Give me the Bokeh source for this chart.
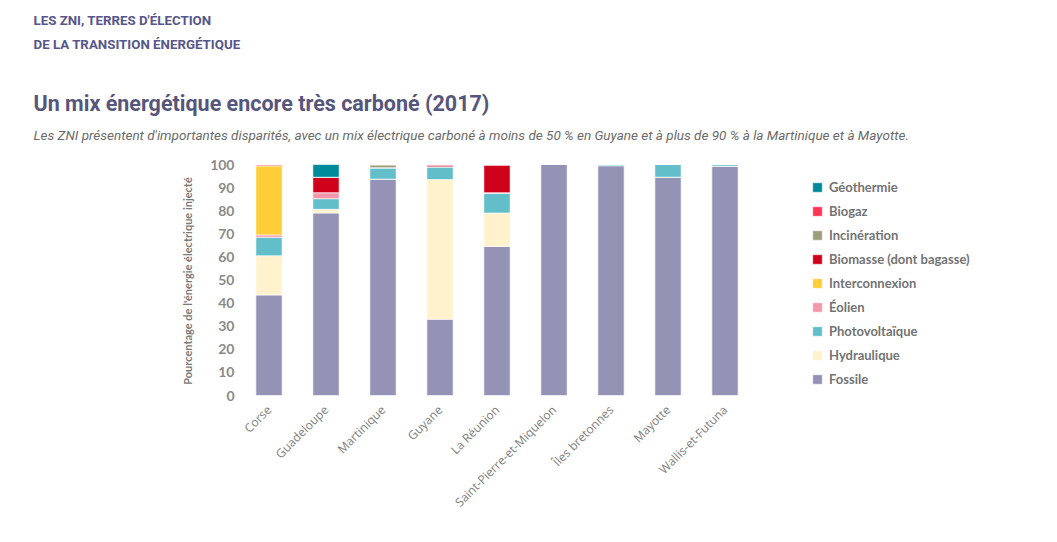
from bokeh.plotting import figure
from bokeh.models import (Range1d, Legend, LegendItem, ColumnDataSource, FixedTicker,
                          Title, LinearAxis)
from bokeh.embed import file_html
from bokeh.resources import INLINE
import math

regions = ["Corse", "Guadeloupe", "Martinique", "Guyane", "La Réunion",
           "Saint-Pierre-et-Miquelon", "Îles bretonnes", "Mayotte", "Wallis-et-Futuna"]

fossile        = [43.5, 79.0, 93.7, 33.0, 64.5, 100.0, 99.5, 94.5, 99.3]
hydraulique    = [17.0,  1.6,  0.0, 60.5, 14.5,   0.0,  0.0,  0.0,  0.0]
photovoltaique = [ 8.0,  4.6,  4.9,  5.5,  8.5,   0.0,  0.5,  5.5,  0.7]
eolien         = [ 1.0,  2.6,  0.0,  0.0,  0.3,   0.0,  0.0,  0.0,  0.0]
interconnexion = [30.0,  0.0,  0.0,  0.0,  0.0,   0.0,  0.0,  0.0,  0.0]
biomasse       = [ 0.0,  6.7,  0.0,  0.8, 12.0,   0.0,  0.0,  0.0,  0.0]
incineration   = [ 0.0,  0.0,  1.2,  0.0,  0.0,   0.0,  0.0,  0.0,  0.0]
biogaz         = [ 0.5,  0.0,  0.2,  0.2,  0.2,   0.0,  0.0,  0.0,  0.0]
geothermie     = [ 0.0,  5.5,  0.0,  0.0,  0.0,   0.0,  0.0,  0.0,  0.0]

series_keys = ["fossile", "hydraulique", "photovoltaique", "eolien", "interconnexion",
               "biomasse", "incineration", "biogaz", "geothermie"]
series_labels = ["Fossile", "Hydraulique", "Photovoltaïque", "Éolien", "Interconnexion",
                 "Biomasse (dont bagasse)", "Incinération", "Biogaz", "Géothermie"]
series_colors = ["#9593b5", "#fff2cc", "#62bfc9", "#f598ae", "#ffcd38",
                 "#d0021b", "#9e9e7e", "#ff3355", "#008a9a"]
y_ticks = [0, 10, 20, 30, 40, 50, 60, 70, 80, 90, 100]

header_lines = ["LES ZNI, TERRES D'ÉLECTION", "DE LA TRANSITION ÉNERGÉTIQUE"]
title_text = "Un mix énergétique encore très carboné (2017)"
subtitle_text = ("Les ZNI présentent d'importantes disparités, avec un mix électrique carboné "
                 "à moins de 50 % en Guyane et à plus de 90 % à la Martinique et à Mayotte.")

W, H = 1041, 526
positions = list(range(len(regions)))
data = dict(pos=positions, regions=regions, fossile=fossile, hydraulique=hydraulique,
            photovoltaique=photovoltaique, eolien=eolien, interconnexion=interconnexion,
            biomasse=biomasse, incineration=incineration, biogaz=biogaz, geothermie=geothermie)
source = ColumnDataSource(data)

# layout geometry (pixels)
FRAME_L, FRAME_T, FRAME_B = 240, 144, 417
PX_PER_CAT = 57.0
PX_PER_PCT = 2.31
x_end = -0.5 + (W - FRAME_L) / PX_PER_CAT
y_end = (395 - FRAME_T) / PX_PER_PCT
y_start = -(FRAME_B - 395) / PX_PER_PCT

p = figure(x_range=Range1d(-0.5, x_end), y_range=Range1d(y_start, y_end), width=W, height=H,
           output_backend="svg", toolbar_location=None,
           min_border_left=FRAME_L, min_border_right=0, min_border_top=FRAME_T,
           min_border_bottom=H - FRAME_B)
p.outline_line_color = None
p.xgrid.visible = False
p.ygrid.visible = False
p.title = None

xax = p.below[0]
yax = p.left[0]

yax.ticker = FixedTicker(ticks=y_ticks)
yax.axis_line_color = None
yax.major_tick_line_color = None
yax.minor_tick_line_color = None
yax.major_label_text_font = "Lato"
yax.major_label_text_font_size = "14px"
yax.major_label_text_color = "#8a8a8a"
yax.major_label_text_font_style = "bold"
yax.major_label_standoff = 0
yax.axis_label = "Pourcentage de l'énergie électrique injecté"
yax.axis_label_text_font = "Lato"
yax.axis_label_text_font_size = "11px"
yax.axis_label_text_font_style = "bold"
yax.axis_label_text_color = "#7a7a7a"
yax.axis_label_standoff = 13

xax.ticker = FixedTicker(ticks=positions)
xax.major_label_overrides = {i: name for i, name in zip(positions, regions)}
xax.axis_line_color = None
xax.major_tick_line_color = None
xax.minor_tick_line_color = None
xax.major_label_orientation = math.pi / 4
xax.major_label_text_font = "Open Sans"
xax.major_label_text_font_size = "12px"
xax.major_label_text_color = "#7d7d7d"
xax.major_label_standoff = 6 - (FRAME_B - 395)

def add_title(txt, size, color, style, standoff):
    p.add_layout(Title(text=txt, align="left", offset=-207, text_font="Roboto",
                       text_font_size=size, text_color=color, text_font_style=style,
                       standoff=standoff), "above")

# stacked from the frame upward
add_title(subtitle_text, "13.5px", "#6a6a6a", "italic", 4)
add_title(title_text, "21.5px", "#56567c", "bold", 13)
# invisible spacing band between the title and the header lines
spacer = LinearAxis(ticker=FixedTicker(ticks=[0]), major_label_overrides={0: ""},
                    major_tick_out=29, major_tick_in=0,
                    major_tick_line_color="white", minor_tick_out=0, minor_tick_in=0,
                    minor_tick_line_color=None, axis_line_color=None,
                    major_label_standoff=0, axis_label_standoff=0,
                    major_label_text_font_size="1px")
p.add_layout(spacer, "above")
add_title(header_lines[1], "13.3px", "#56568a", "bold", 4)
add_title(header_lines[0], "13.3px", "#56568a", "bold", 9)

renderers = p.vbar_stack(series_keys, x="pos", width=0.46, source=source,
                         color=series_colors, line_color="white", line_width=0.6)

items = [LegendItem(label=l, renderers=[r]) for l, r in zip(series_labels, renderers)]
items.reverse()
legend = Legend(items=items, location=(571, 28), orientation="vertical",
                glyph_width=12, glyph_height=12, label_height=20, spacing=4,
                padding=0, margin=0, border_line_color=None, background_fill_alpha=0,
                label_text_font="Lato", label_text_font_size="13px",
                label_text_color="#737373", label_text_font_style="bold",
                label_standoff=6)
p.add_layout(legend, "center")

open("out.html", "w").write(file_html(p, INLINE))
